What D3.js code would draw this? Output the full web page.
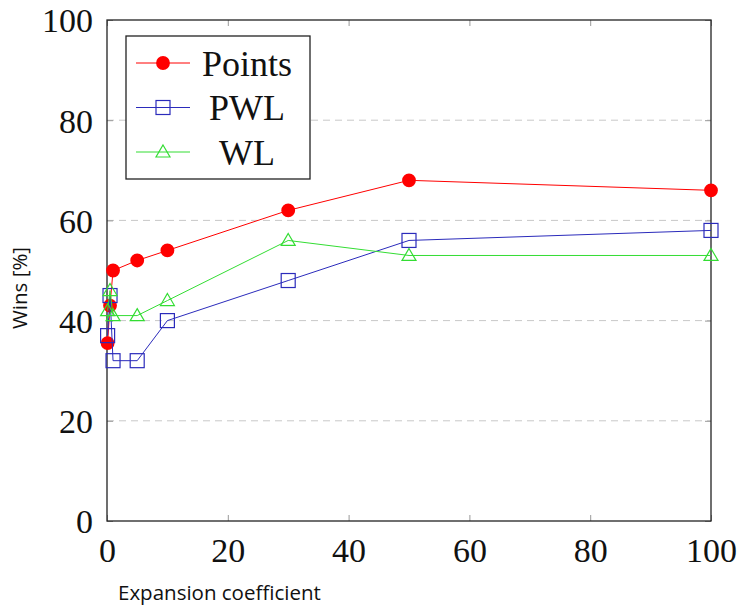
<!DOCTYPE html>
<html>
<head>
<meta charset="utf-8">
<script src="https://cdn.jsdelivr.net/npm/d3@7"></script>
<style>
  body { margin: 0; background: #fff; }
  .tick text { font-family: "Liberation Serif", serif; }
</style>
</head>
<body>
<svg></svg>
<script>
// data
var xVals = [0.1, 0.5, 1, 5, 10, 30, 50, 100];
var pointsVals = [35.5, 43, 50, 52, 54, 62, 68, 66];
var pwlVals = [37, 45, 32, 32, 40, 48, 56, 58];
var wlVals = [42, 46, 41, 41, 44, 56, 53, 53];
var seriesNames = ["Points", "PWL", "WL"];
var xTicks = [0, 20, 40, 60, 80, 100];
var yTicks = [0, 20, 40, 60, 80, 100];

var W = 739, H = 606;
var margins = {top: 20, right: 28, bottom: 85, left: 107};
var width = W - margins.left - margins.right;
var height = H - margins.top - margins.bottom;

var svg = d3.select("svg").attr("width", W).attr("height", H);
var g = svg.append("g").attr("transform", "translate(" + margins.left + "," + margins.top + ")");

var x = d3.scaleLinear().domain([0, 100]).range([0, width]);
var y = d3.scaleLinear().domain([0, 100]).range([height, 0]);

// dashed grid
g.selectAll("line.grid").data(yTicks.filter(function(d){ return d > 0 && d < 100; }))
  .enter().append("line").attr("class", "grid")
  .attr("x1", 0).attr("x2", width)
  .attr("y1", function(d){ return y(d); }).attr("y2", function(d){ return y(d); })
  .attr("stroke", "#c8c8c8").attr("stroke-width", 1).attr("stroke-dasharray", "7,5");

// axes, inward ticks
var xAxis = d3.axisBottom(x).tickValues(xTicks).tickSize(-6).tickPadding(14);
var gx = g.append("g").attr("transform", "translate(0," + height + ")").call(xAxis);
var xTop = d3.axisTop(x).tickValues(xTicks).tickSize(-6).tickFormat("");
var gxt = g.append("g").call(xTop);
var yAxis = d3.axisLeft(y).tickValues(yTicks).tickSize(-6).tickPadding(14);
var gy = g.append("g").call(yAxis);
var yRight = d3.axisRight(y).tickValues(yTicks).tickSize(-6).tickFormat("");
var gyr = g.append("g").attr("transform", "translate(" + width + ",0)").call(yRight);

[gx, gxt, gy, gyr].forEach(function(a){
  a.select(".domain").remove();
  a.selectAll(".tick line").attr("stroke", "#999");
  a.selectAll(".tick text").attr("font-size", 34).attr("fill", "#111");
});
gx.selectAll(".tick text").attr("dy", "0.8em");
gy.selectAll(".tick text").attr("dy", "0.35em");

g.append("rect").attr("width", width).attr("height", height)
  .attr("fill", "none").attr("stroke", "#222").attr("stroke-width", 1.3);

var series = [
  {name: seriesNames[0], vals: pointsVals, color: "#ff0000", marker: "circle"},
  {name: seriesNames[1], vals: pwlVals, color: "#2b2bbb", marker: "square"},
  {name: seriesNames[2], vals: wlVals, color: "#33dd33", marker: "triangle"}
];

var line = d3.line().x(function(d){ return x(d[0]); }).y(function(d){ return y(d[1]); });

function drawMarker(sel, s) {
  if (s.marker === "circle") {
    sel.append("path").attr("d", d3.symbol(d3.symbolCircle, 150)())
      .attr("fill", s.color);
  } else if (s.marker === "square") {
    sel.append("rect").attr("x", -7).attr("y", -7).attr("width", 14).attr("height", 14)
      .attr("fill", "none").attr("stroke", s.color).attr("stroke-width", 1.2);
  } else {
    sel.append("path").attr("d", "M0,-7L7,5L-7,5Z")
      .attr("fill", "none").attr("stroke", s.color).attr("stroke-width", 1.2);
  }
}

series.forEach(function(s){
  var pts = xVals.map(function(v, i){ return [v, s.vals[i]]; });
  g.append("path").datum(pts).attr("d", line)
    .attr("fill", "none").attr("stroke", s.color).attr("stroke-width", 1);
  g.selectAll(null).data(pts).enter().append("g")
    .attr("transform", function(d){ return "translate(" + x(d[0]) + "," + y(d[1]) + ")"; })
    .each(function(){ drawMarker(d3.select(this), s); });
});

// legend
var leg = svg.append("g").attr("transform", "translate(126,36)");
leg.append("rect").attr("width", 184).attr("height", 143)
  .attr("fill", "#fff").attr("stroke", "#222").attr("stroke-width", 1.3);
series.forEach(function(s, i){
  var row = leg.append("g").attr("transform", "translate(0," + (27 + i * 44.5) + ")");
  row.append("line").attr("x1", 10).attr("x2", 64).attr("stroke", s.color).attr("stroke-width", 1);
  var m = row.append("g").attr("transform", "translate(37,0)");
  drawMarker(m, s);
  row.append("text").attr("x", 121).attr("y", 0).attr("dy", "0.35em")
    .attr("text-anchor", "middle")
    .attr("font-family", "Liberation Serif, serif").attr("font-size", 36)
    .attr("fill", "#111").text(s.name);
});

// axis titles
svg.append("text").attr("x", 118).attr("y", 600)
  .attr("font-family", "Open Sans, sans-serif").attr("font-size", 20.5).attr("fill", "#111")
  .text("Expansion coefficient");
svg.append("text").attr("transform", "translate(27,288) rotate(-90)")
  .attr("text-anchor", "middle")
  .attr("font-family", "Open Sans, sans-serif").attr("font-size", 20.5).attr("fill", "#111")
  .text("Wins [%]");
</script>
</body>
</html>
